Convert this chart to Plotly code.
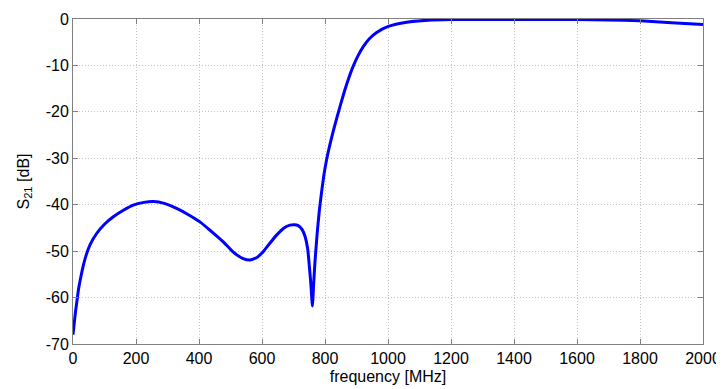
import plotly.graph_objects as go

freq_mhz = [0, 4, 8, 12, 18, 25, 33, 42, 55, 75, 100, 128, 160, 191, 225, 255, 290,
            329, 365, 403, 440, 477, 500, 520, 540, 562, 585, 604, 625, 647, 670,
            689, 702, 715, 727, 737, 745, 750, 755, 760, 764, 768, 775, 782, 790,
            797, 805, 815, 826, 838, 850, 862, 875, 890, 905, 922, 940, 964, 1001,
            1059, 1128, 1200, 1400, 1600, 1700, 1800, 1900, 2000]
s21_db = [-68, -65.5, -63, -61, -58, -55.5, -53, -50.8, -48.5, -46.2, -44.2, -42.6,
          -41.2, -40.1, -39.5, -39.3, -39.7, -40.8, -42.1, -43.7, -45.8, -48.0,
          -49.6, -50.8, -51.6, -51.9, -51.3, -50.1, -48.3, -46.5, -45.0, -44.4,
          -44.3, -44.5, -45.3, -46.9, -49.5, -53.0, -57, -61.8, -57, -52.5, -46.3,
          -41.3, -36.8, -33.4, -30.3, -27.2, -24.2, -21.2, -18.3, -15.5, -12.8,
          -10.1, -7.9, -5.9, -4.3, -2.9, -1.6, -0.7, -0.25, -0.1, -0.1, -0.1,
          -0.2, -0.4, -0.8, -1.2]

x_ticks = list(range(0, 2001, 200))
y_ticks = list(range(-70, 1, 10))

FONT = "Liberation Sans, Arial, sans-serif"

fig = go.Figure()
fig.add_trace(go.Scatter(x=freq_mhz, y=s21_db, mode="lines",
                         line=dict(color="#0000FF", width=3, shape="spline", smoothing=0.5),
                         hoverinfo="skip", showlegend=False))

axis_common = dict(
    showline=True, linecolor="#808080", linewidth=1, mirror="ticks",
    ticks="inside", ticklen=5, tickcolor="#808080", tickwidth=1,
    showgrid=True, gridcolor="#C4C4C4", griddash="1px,2px", gridwidth=1,
    zeroline=False, automargin=False,
    tickfont=dict(family=FONT, size=16, color="black"),
)

fig.update_xaxes(range=[0, 2000], tickvals=x_ticks, ticktext=[str(v) for v in x_ticks],
                 title=dict(text="frequency [MHz]", standoff=4,
                            font=dict(family=FONT, size=16, color="black")),
                 **axis_common)
fig.update_yaxes(range=[-70, 0], tickvals=y_ticks, ticktext=[str(v) for v in y_ticks],
                 title=dict(text="S<sub>21</sub> [dB]", standoff=12,
                            font=dict(family=FONT, size=16, color="black")),
                 **axis_common)

# page body has an 8px default margin; size the figure so the plot area lands
# where the reference has it inside the 724x389 window
fig.update_layout(width=716, height=381, margin=dict(l=65, r=21, t=11, b=45),
                  plot_bgcolor="white", paper_bgcolor="white")

fig.write_html("out.html")
